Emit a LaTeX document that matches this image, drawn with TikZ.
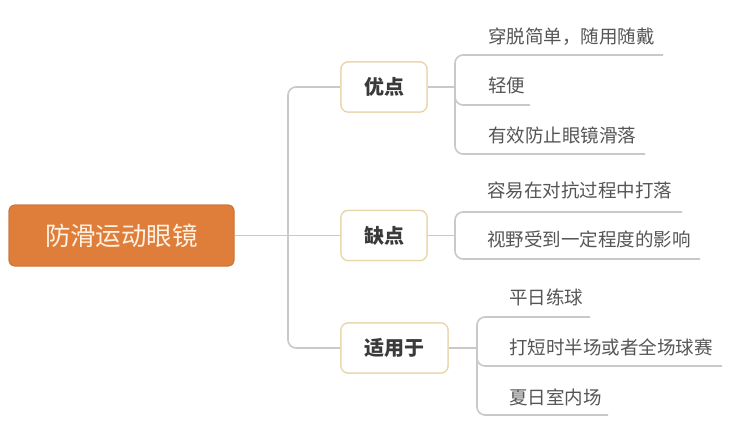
\documentclass[tikz,border=0pt]{standalone}
\usepackage{fontspec}
\setmainfont{Noto Sans CJK SC}
\definecolor{rootfill}{HTML}{DF7D3B}
\definecolor{roottext}{HTML}{FFF2E2}
\definecolor{nodeborder}{HTML}{E8D6A8}
\definecolor{linegray}{HTML}{C9C9C9}
\definecolor{boldtext}{HTML}{3A3A3A}
\definecolor{leaftext}{HTML}{555555}
\tikzset{
  rootbox/.style={draw=rootfill!90!black, fill=rootfill, rounded corners=6pt, text=roottext, font=\fontsize{25.5}{28}\selectfont, minimum width=225pt, minimum height=61pt, line width=0.8pt},
  branchbox/.style={draw=nodeborder, fill=white, rounded corners=7pt, text=boldtext, font=\bfseries\fontsize{20}{23}\selectfont, minimum height=50pt, line width=1.2pt, inner xsep=0pt},
  leaftxt/.style={anchor=west, text=leaftext, font=\fontsize{18.5}{21}\selectfont, inner sep=0pt},
  conn/.style={draw=linegray, line width=1.6pt},
}
\begin{document}
\begin{tikzpicture}[x=1pt,y=-1pt]
\useasboundingbox (0,0) rectangle (750,432);
\fill[white] (0,0) rectangle (750,432);

% nodes
\node[rootbox] (root) at (121.5,235.5) {防滑运动眼镜};
\node[branchbox, minimum width=86pt] (you) at (384,87) {优点};
\node[branchbox, minimum width=86pt] (que) at (384,235.5) {缺点};
\node[branchbox, minimum width=107pt] (shi) at (394.5,348) {适用于};

% leaves
\node[leaftxt] (a1) at (488,37) {穿脱简单，随用随戴};
\node[leaftxt] (a2) at (488,85) {轻便};
\node[leaftxt] (a3) at (488,135) {有效防止眼镜滑落};
\node[leaftxt] (b1) at (487,190) {容易在对抗过程中打落};
\node[leaftxt] (b2) at (487,239) {视野受到一定程度的影响};
\node[leaftxt] (c1) at (509,297) {平日练球};
\node[leaftxt] (c2) at (509,347) {打短时半场或者全场球赛};
\node[leaftxt] (c3) at (509,397) {夏日室内场};

% underline ends
\coordinate (a1e) at (663,55);
\coordinate (a2e) at (530,105);
\coordinate (a3e) at (645,154);
\coordinate (b1e) at (682,212);
\coordinate (b2e) at (700,259);
\coordinate (c1e) at (590,317);
\coordinate (c2e) at (722,366);
\coordinate (c3e) at (608,415);

% trunk
\draw[conn] (root.east) -- (que.west);
\draw[conn, rounded corners=8pt] (you.west) -- (288,87) -- (288,348) -- (shi.west);

% 优点 bracket
\draw[conn] (you.east) -- (455,87);
\draw[conn, rounded corners=8pt] (a1e) -- (455,55) -- (455,154) -- (a3e);
\draw[conn, rounded corners=8pt] (455,92) |- (a2e);

% 缺点 bracket
\draw[conn] (que.east) -- (455,235.5);
\draw[conn, rounded corners=8pt] (b1e) -- (455,212) -- (455,259) -- (b2e);

% 适用于 bracket
\draw[conn] (shi.east) -- (477,348);
\draw[conn, rounded corners=8pt] (c1e) -- (477,317) -- (477,415) -- (c3e);
\draw[conn, rounded corners=8pt] (477,354) |- (c2e);

% redraw nodes on top of lines
\node[rootbox] at (root) {防滑运动眼镜};
\node[branchbox, minimum width=86pt] at (you) {优点};
\node[branchbox, minimum width=86pt] at (que) {缺点};
\node[branchbox, minimum width=107pt] at (shi) {适用于};
\end{tikzpicture}
\end{document}
